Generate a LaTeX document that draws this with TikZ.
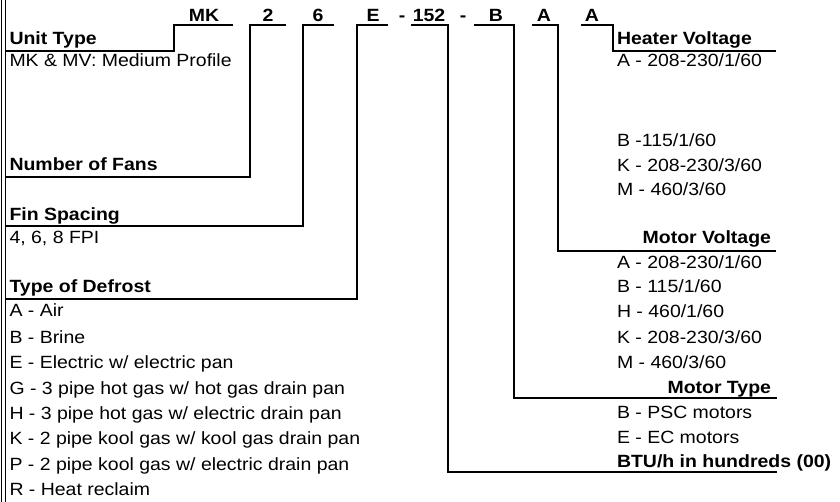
\documentclass[tikz,border=0pt]{standalone}
\usepackage{fontspec}
\setmainfont{Liberation Sans}[FakeStretch=1.1]
\begin{document}
\begin{tikzpicture}[x=1pt,y=-1pt,
  txt/.style={inner sep=0pt,outer sep=0pt,anchor=base west,font=\fontsize{17.7}{21}\selectfont},
  hdr/.style={txt,font=\fontsize{17.7}{21}\selectfont\bfseries},
  hdrr/.style={hdr,anchor=base east},
  code/.style={inner sep=0pt,outer sep=0pt,anchor=base,font=\fontsize{17.7}{21}\selectfont\bfseries},
  conn/.style={line width=2.1pt,line cap=rect},
  border/.style={line width=1.5pt}]
\useasboundingbox (0,0) rectangle (840,502);
\fill[white] (0,0) rectangle (840,502);
% left double border
\coordinate (b1t) at (1.5,0); \coordinate (b1b) at (1.5,502);
\coordinate (b2t) at (5.3,0); \coordinate (b2b) at (5.3,502);
\draw[border] (b1t) -- (b1b);
\draw[border] (b2t) -- (b2b);
% code row
\node[code] (cMK) at (204,22) {MK};
\node[code] (c2) at (268,22) {2};
\node[code] (c6) at (318,22) {6};
\node[code] (cE) at (373,22) {E};
\node[code] (d1) at (402,22) {-};
\node[code] (c152) at (429,22) {152};
\node[code] (d2) at (463,22) {-};
\node[code] (cB) at (496,22) {B};
\node[code] (cA1) at (544,22) {A};
\node[code] (cA2) at (592,22) {A};
% left labels
\node[hdr] (tUnit) at (9.5,45) {Unit Type};
\node[txt] (tMK) at (9.5,67) {MK \& MV: Medium Profile};
\node[hdr] (tFans) at (9.5,171) {Number of Fans};
\node[hdr] (tFin) at (9.5,221) {Fin Spacing};
\node[txt] (tFPI) at (9.5,244) {4, 6, 8 FPI};
\node[hdr] (tDef) at (9.5,293) {Type of Defrost};
\node[txt] (dA) at (9.5,317) {A - Air};
\node[txt] (dB) at (9.5,343) {B - Brine};
\node[txt] (dE) at (9.5,368) {E - Electric w/ electric pan};
\node[txt] (dG) at (9.5,394) {G - 3 pipe hot gas w/ hot gas drain pan};
\node[txt] (dH) at (9.5,419) {H - 3 pipe hot gas w/ electric drain pan};
\node[txt] (dK) at (9.5,444) {K - 2 pipe kool gas w/ kool gas drain pan};
\node[txt] (dP) at (9.5,470) {P - 2 pipe kool gas w/ electric drain pan};
\node[txt] (dR) at (9.5,495) {R - Heat reclaim};
% right labels
\node[hdr] (tHeat) at (617,45) {Heater Voltage};
\node[txt] (hA) at (617,67) {A - 208-230/1/60};
\node[txt] (hB) at (617,147) {B -115/1/60};
\node[txt] (hK) at (617,172) {K - 208-230/3/60};
\node[txt] (hM) at (617,196) {M - 460/3/60};
\node[hdrr] (tMV) at (771,244) {Motor Voltage};
\node[txt] (mA) at (617,269) {A - 208-230/1/60};
\node[txt] (mB) at (617,293) {B - 115/1/60};
\node[txt] (mH) at (617,318) {H - 460/1/60};
\node[txt] (mK) at (617,343) {K - 208-230/3/60};
\node[txt] (mM) at (617,368) {M - 460/3/60};
\node[hdrr] (tMT) at (771,393) {Motor Type};
\node[txt] (tB) at (617,418) {B - PSC motors};
\node[txt] (tE) at (617,443) {E - EC motors};
\node[hdr] (tBTU) at (617,467) {BTU/h in hundreds (00)};
% connector end points
\coordinate (uMKr) at (232,25); \coordinate (uMKl) at (174,25); \coordinate (eUnit) at (6,51);
\coordinate (u2r) at (285,25); \coordinate (u2l) at (250,25); \coordinate (eFans) at (6,177);
\coordinate (u6r) at (333,25); \coordinate (u6l) at (303,25); \coordinate (eFin) at (6,226);
\coordinate (uEr) at (387,25); \coordinate (uEl) at (357,25); \coordinate (eDef) at (6,299);
\coordinate (u152l) at (412,25); \coordinate (u152r) at (448,25); \coordinate (eBTU) at (776,472);
\coordinate (uBl) at (475,25); \coordinate (uBr) at (514,25); \coordinate (eMT) at (776,398);
\coordinate (uA1l) at (533,25); \coordinate (uA1r) at (558,25); \coordinate (eMV) at (775,251);
\coordinate (uA2l) at (582,25); \coordinate (uA2r) at (613,25); \coordinate (eHeat) at (775,51);
% connectors
\draw[conn] (uMKr) -- (uMKl) |- (eUnit);
\draw[conn] (u2r) -- (u2l) |- (eFans);
\draw[conn] (u6r) -- (u6l) |- (eFin);
\draw[conn] (uEr) -- (uEl) |- (eDef);
\draw[conn] (u152l) -- (u152r) |- (eBTU);
\draw[conn] (uBl) -- (uBr) |- (eMT);
\draw[conn] (uA1l) -- (uA1r) |- (eMV);
\draw[conn] (uA2l) -- (uA2r) |- (eHeat);
\end{tikzpicture}
\end{document}
